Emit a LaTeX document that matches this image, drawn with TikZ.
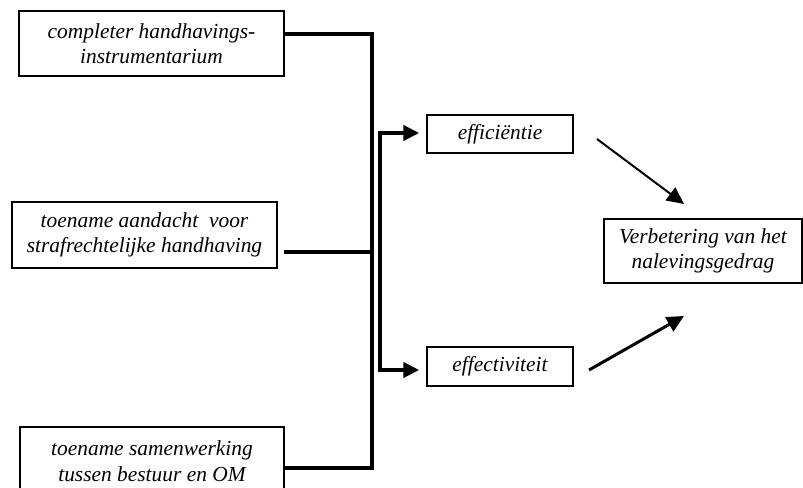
\documentclass[tikz,border=0pt]{standalone}
\usepackage{fontspec}
\setmainfont{Liberation Serif}
\usetikzlibrary{arrows.meta}
\begin{document}
\begin{tikzpicture}[x=1bp,y=-1bp,
  box/.style={draw,line width=1.4bp,inner sep=0pt,align=center,
    font=\fontsize{21.5}{25.5}\selectfont\itshape},
  bus/.style={line width=4bp},
  bigtip/.style={-{Triangle[length=16bp,width=15bp]}},
  diag/.style={-{Triangle[length=17bp,width=16bp]}}]
\useasboundingbox[fill=white] (0,0) rectangle (803,488);
\node[box,minimum width=265bp,minimum height=65bp] (b1) at (151.5,43.5)
  {completer handhavings-\\instrumentarium};
\node[box,minimum width=265bp,minimum height=66bp] (b2) at (144.5,235)
  {toename aandacht\ \ voor\\strafrechtelijke handhaving};
\node[box,minimum width=264bp,minimum height=68bp] (b3) at (152,461)
  {toename samenwerking\\tussen bestuur en OM};
\node[box,minimum width=146bp,minimum height=38bp] (ef1) at (500,134) {efficiëntie};
\node[box,minimum width=146bp,minimum height=39bp] (ef2) at (500,366.5) {effectiviteit};
\node[box,minimum width=198bp,minimum height=64bp] (vb) at (703,251)
  {Verbetering van het\\nalevingsgedrag};
% first bus
\coordinate (vt) at (372,34);
\coordinate (vm) at (372,252);
\coordinate (vbt) at (372,468);
\coordinate (s2) at (284,252);
\draw[bus] (b1.east |- vt) -- (vt) -- (vbt) -- (b3.east |- vbt);
\draw[bus] (s2) -- (vm);
% second bus
\coordinate (wt) at (380,133);
\coordinate (wb) at (380,370);
\draw[bus,bigtip,shorten >=7bp] (wb) -- (wt) -- (ef1.west |- wt);
\draw[bus,bigtip,shorten >=7bp] (wt) -- (wb) -- (ef2.west |- wb);
% diagonal arrows
\coordinate (a1s) at (597,139);
\coordinate (a1e) at (684,204);
\coordinate (a2s) at (589,370);
\coordinate (a2e) at (684,316);
\draw[line width=2bp,diag] (a1s) -- (a1e);
\draw[line width=3bp,diag] (a2s) -- (a2e);
\end{tikzpicture}
\end{document}
